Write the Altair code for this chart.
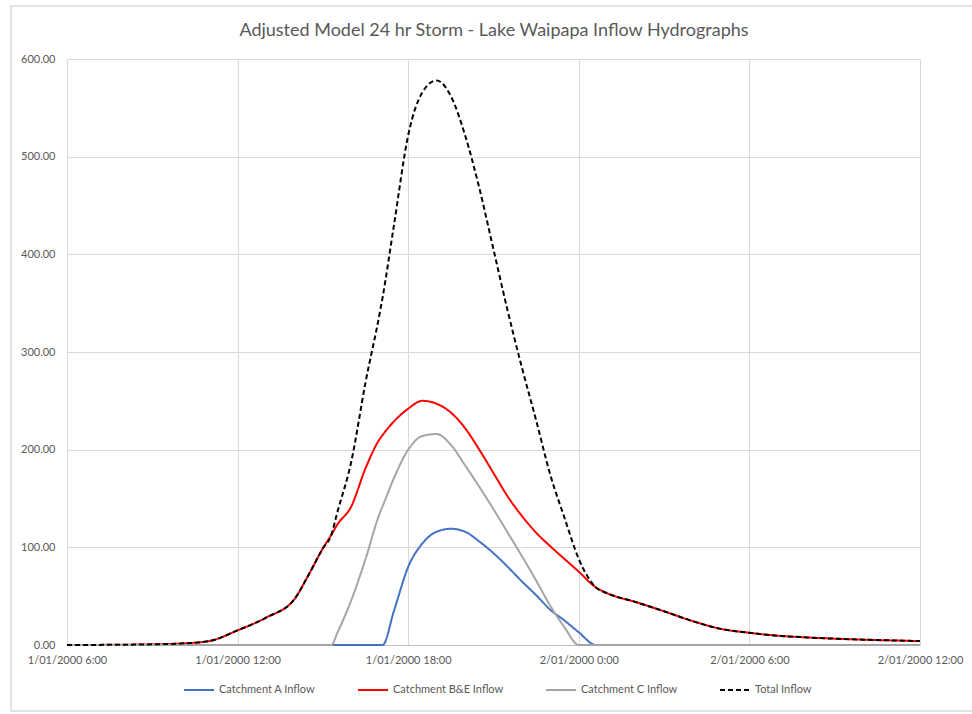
import altair as alt
import pandas as pd

# ---------------- data ----------------
title_text = "Adjusted Model 24 hr Storm - Lake Waipapa Inflow Hydrographs"
series_names = ["Catchment A Inflow", "Catchment B&E Inflow", "Catchment C Inflow", "Total Inflow"]
series_colors = ["#4472C4", "#FF0000", "#A5A5A5", "#000000"]

x_tick_hours = [0, 6, 12, 18, 24, 30]
x_tick_labels = ["1/01/2000 6:00", "1/01/2000 12:00", "1/01/2000 18:00",
                 "2/01/2000 0:00", "2/01/2000 6:00", "2/01/2000 12:00"]
y_ticks = [0, 100, 200, 300, 400, 500, 600]

# hours after 1/01/2000 6:00
hours = [0, 1, 2, 3, 4, 5, 6, 7, 8, 8.5, 9, 9.3, 9.5, 10, 10.5, 11, 11.1, 11.5, 12, 12.5,
         13, 13.5, 14, 14.5, 15, 15.5, 16, 16.5, 17, 17.5, 18, 18.6, 19, 20, 21, 22, 23,
         24, 25, 26, 27, 28, 29, 30]

catchment_a = [0, 0, 0, 0, 0, 0, 0, 0, 0, 0, 0, 0, 0, 0, 0, 0, 0, 35, 80, 104,
               116, 119, 116, 106, 94, 80, 65, 51, 36, 25, 13, 0, 0, 0, 0, 0, 0,
               0, 0, 0, 0, 0, 0, 0]

catchment_be = [0, 0.1, 0.3, 0.7, 1.5, 4, 15, 28, 47, 72, 99, 113, 123, 142, 181, 211, 215, 229, 242, 250,
                247, 238, 222, 200, 176, 152, 132, 115, 101, 88, 75, 59, 53, 44, 34.5, 24.5, 16.5,
                12.5, 9.5, 7.8, 6.5, 5.5, 4.7, 4]

catchment_c = [0, 0, 0, 0, 0, 0, 0, 0, 0, 0, 0, 0, 12, 46, 88, 135, 142, 171, 200, 214,
               216, 205, 184, 162, 139, 115, 91, 66, 40, 18, 0, 0, 0, 0, 0, 0, 0,
               0, 0, 0, 0, 0, 0, 0]

total_inflow = [0, 0.1, 0.3, 0.7, 1.5, 4, 15, 28, 47, 72, 99, 113, 135, 188, 269, 340, 356, 430, 522, 566,
                578, 562, 522, 468, 405, 342, 284, 230, 174, 130, 88, 59, 53, 44, 34.5, 24.5, 16.5,
                12.5, 9.5, 7.8, 6.5, 5.5, 4.7, 4]

rows = []
for name, vals in zip(series_names, [catchment_a, catchment_be, catchment_c, total_inflow]):
    for h, v in zip(hours, vals):
        rows.append({"hours": h, "flow": v, "series": name})
df = pd.DataFrame(rows)

FONT = "Lato"
TXT = "#595959"
GRID = "#d9d9d9"

label_expr = "[" + ",".join("'" + s + "'" for s in x_tick_labels) + "][round(datum.value / 6)]"

legend_def = alt.Legend(
    title=None, orient="none", direction="horizontal",
    legendX=116, legendY=615,
    symbolType="stroke", symbolSize=900, symbolStrokeWidth=2,
    labelFont=FONT, labelFontSize=11, labelColor=TXT, labelOffset=4,
    columnPadding=38, padding=0,
)

lines = alt.Chart(df).mark_line(strokeWidth=2, interpolate="monotone").encode(
    x=alt.X("hours:Q",
            scale=alt.Scale(domain=[0, 30], nice=False, zero=False),
            axis=alt.Axis(values=x_tick_hours, labelExpr=label_expr, title=None,
                          grid=True, gridColor=GRID, gridWidth=1, ticks=False,
                          domain=True, domainColor="#bfbfbf", domainWidth=1,
                          labelFlush=False, labelPadding=9, labelFont=FONT,
                          labelFontSize=11, labelColor=TXT, labelOverlap=False)),
    y=alt.Y("flow:Q",
            scale=alt.Scale(domain=[0, 600], nice=False),
            axis=alt.Axis(values=y_ticks, format=".2f", title=None, grid=True,
                          gridColor=GRID, gridWidth=1, ticks=False, domain=False,
                          labelPadding=12, labelFont=FONT, labelFontSize=11,
                          labelColor=TXT)),
    color=alt.Color("series:N",
                    scale=alt.Scale(domain=series_names, range=series_colors),
                    sort=series_names, legend=legend_def),
    strokeDash=alt.StrokeDash("series:N",
                              scale=alt.Scale(domain=series_names,
                                              range=[[1, 0], [1, 0], [1, 0], [5, 3]]),
                              sort=series_names, legend=legend_def),
)

frame = alt.Chart(alt.Data(values=[{}])).mark_rect(
    fillOpacity=0, stroke="#d9d9d9", strokeWidth=1.5
).encode(
    x=alt.value(-56), x2=alt.value(915), y=alt.value(-53), y2=alt.value(652)
)

title = alt.Chart(alt.Data(values=[{"t": title_text}])).mark_text(
    font=FONT, fontSize=18, color=TXT, align="center", baseline="middle"
).encode(
    text="t:N", x=alt.value(427), y=alt.value(-28)
)

chart = alt.layer(frame, lines, title).properties(
    width=853, height=586,
    autosize=alt.AutoSizeParams(type="none"),
    padding={"left": 67, "top": 59, "right": 52, "bottom": 69},
    background="white",
).configure_view(stroke=None)

chart.save("out.html", embed_options={"renderer": "svg", "actions": False})
